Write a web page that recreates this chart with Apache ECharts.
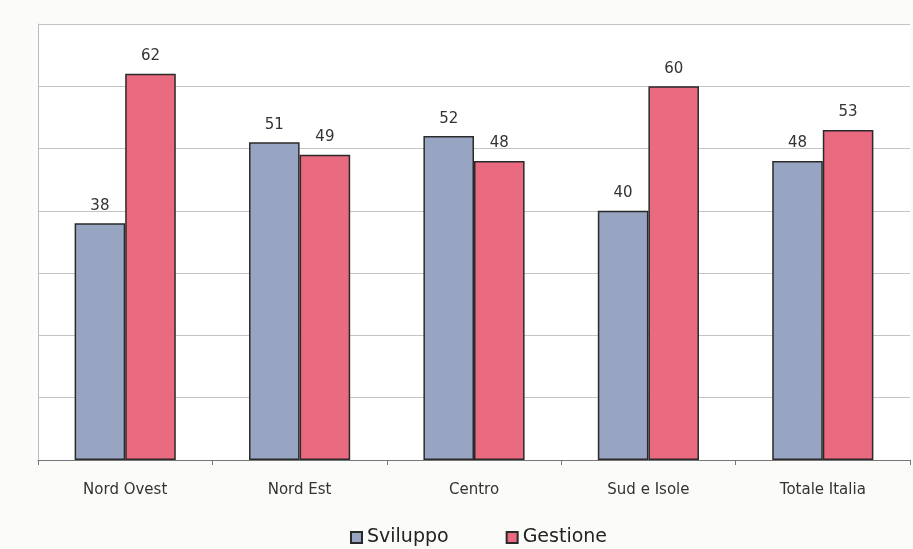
<!DOCTYPE html>
<html><head><meta charset="utf-8">
<script src="https://cdn.jsdelivr.net/npm/echarts@6/dist/echarts.min.js"></script>
<style>html,body{margin:0;padding:0;background:#fbfbf9;}#c{width:913px;height:549px;}</style>
</head><body><div id="c"></div>
<script>
const categories = ['Nord Ovest', 'Nord Est', 'Centro', 'Sud e Isole', 'Totale Italia'];
const sviluppo = [38, 51, 52, 40, 48];
const gestione = [62, 49, 48, 60, 53];
const seriesNames = ['Sviluppo', 'Gestione'];

const chart = echarts.init(document.getElementById('c'));
const font = 'DejaVu Sans';
const lbl = {show: true, position: 'top', distance: 10, color: '#333', fontFamily: font, fontSize: 15};
chart.setOption({
  animation: false,
  backgroundColor: '#fbfbf9',
  grid: {left: 38, right: 3, top: 24, bottom: 89, show: true, backgroundColor: '#ffffff', borderWidth: 0},
  legend: {
    top: 523, left: 345, itemWidth: 11, itemHeight: 11, itemGap: 57,
    icon: 'rect',
    textStyle: {fontFamily: font, fontSize: 19, color: '#222'},
    data: seriesNames
  },
  xAxis: {
    type: 'category', data: categories,
    axisLine: {lineStyle: {color: '#777', width: 1}},
    axisTick: {show: true, length: 5, lineStyle: {color: '#777'}},
    axisLabel: {color: '#333', fontFamily: font, fontSize: 15, margin: 23}
  },
  yAxis: {
    type: 'value', min: 0, max: 70, interval: 10,
    axisLine: {show: true, lineStyle: {color: '#bbb'}},
    axisTick: {show: false},
    axisLabel: {show: false},
    splitLine: {lineStyle: {color: '#c4c4c4', width: 1}}
  },
  series: [
    {name: seriesNames[0], type: 'bar', data: sviluppo, barGap: '0%', barCategoryGap: '42%',
     itemStyle: {color: '#98a5c2', borderColor: '#2a2a2a', borderWidth: 1.5}, label: lbl},
    {name: seriesNames[1], type: 'bar', data: gestione,
     itemStyle: {color: '#ea6a80', borderColor: '#2a2a2a', borderWidth: 1.5}, label: lbl}
  ]
});
</script></body></html>
